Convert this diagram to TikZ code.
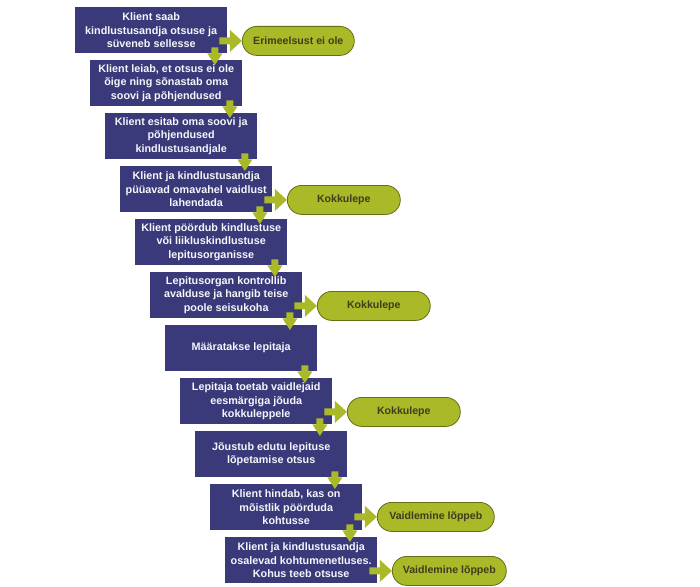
\documentclass[tikz,border=0pt]{standalone}
\usepackage{fontspec}
\setmainfont{Liberation Sans}
\usetikzlibrary{calc}
\definecolor{boxblue}{RGB}{58,58,122}
\definecolor{agreen}{RGB}{170,185,40}
\definecolor{oborder}{RGB}{100,110,20}
\definecolor{otext}{RGB}{60,62,30}
\definecolor{btext}{RGB}{245,245,250}
\newcommand{\dnarrow}[2]{\fill[agreen] let \p1=($(#1.south east)+(-12.5pt,0pt)$), \p2=(#2.north) in (\x1-3.5pt,\y1+6pt) -- (\x1+3.5pt,\y1+6pt) -- (\x1+3.5pt,\y1) -- (\x1+7.5pt,\y1) -- (\x1,\y2-5pt) -- (\x1-7.5pt,\y1) -- (\x1-3.5pt,\y1) -- cycle;}
\newcommand{\rtarrow}[2]{\fill[agreen] let \p1=(#1.east), \p2=(#2.west) in (\x1-8pt,\y2+3.5pt) -- (\x2-12pt,\y2+3.5pt) -- (\x2-12pt,\y2+11pt) -- (\x2,\y2) -- (\x2-12pt,\y2-11pt) -- (\x2-12pt,\y2-3.5pt) -- (\x1-8pt,\y2-3.5pt) -- cycle;}
\tikzset{
  stepbox/.style={rectangle, fill=boxblue, minimum width=152pt, minimum height=46pt, inner sep=0pt, text=btext, font=\bfseries\fontsize{10.8}{13.3}\selectfont, align=center, anchor=north west},
  endoval/.style={rectangle, rounded corners=14.5pt, fill=agreen, draw=oborder, line width=0.8pt, minimum width=113pt, minimum height=29pt, inner sep=0pt, text=otext, font=\bfseries\fontsize{10.6}{12}\selectfont, anchor=west}
}
\begin{document}
\begin{tikzpicture}[x=1pt,y=-1pt]
\useasboundingbox (0,0) rectangle (700,586);
\node[stepbox] (b1) at (75,7) {Klient saab\\kindlustusandja otsuse ja\\süveneb sellesse};
\node[stepbox] (b2) at (90,60) {Klient leiab, et otsus ei ole\\õige ning sõnastab oma\\soovi ja põhjendused};
\node[stepbox] (b3) at (105,113) {Klient esitab oma soovi ja\\põhjendused\\kindlustusandjale};
\node[stepbox] (b4) at (120,166) {Klient ja kindlustusandja\\püüavad omavahel vaidlust\\lahendada};
\node[stepbox] (b5) at (135,219) {Klient pöördub kindlustuse\\või liikluskindlustuse\\lepitusorganisse};
\node[stepbox] (b6) at (150,272) {Lepitusorgan kontrollib\\avalduse ja hangib teise\\poole seisukoha};
\node[stepbox] (b7) at (165,325) {Määratakse lepitaja};
\node[stepbox] (b8) at (180,378) {Lepitaja toetab vaidlejaid\\eesmärgiga jõuda\\kokkuleppele};
\node[stepbox] (b9) at (195,431) {Jõustub edutu lepituse\\lõpetamise otsus};
\node[stepbox] (b10) at (210,484) {Klient hindab, kas on\\mõistlik pöörduda\\kohtusse};
\node[stepbox] (b11) at (225,537) {Klient ja kindlustusandja\\osalevad kohtumenetluses.\\Kohus teeb otsuse};
\node[endoval, minimum width=112pt] (o1) at ($(b1.south east)+(14.5pt,12.5pt)$) {Erimeelsust ei ole};
\node[endoval] (o2) at ($(b4.south east)+(14.5pt,12.5pt)$) {Kokkulepe};
\node[endoval] (o3) at ($(b6.south east)+(14.5pt,12.5pt)$) {Kokkulepe};
\node[endoval] (o4) at ($(b8.south east)+(14.5pt,12.5pt)$) {Kokkulepe};
\node[endoval, minimum width=117pt] (o5) at ($(b10.south east)+(14.5pt,13.5pt)$) {Vaidlemine lõppeb};
\node[endoval, minimum width=114pt] (o6) at ($(b11.south east)+(14.5pt,12.5pt)$) {Vaidlemine lõppeb};
\dnarrow{b1}{b2}
\dnarrow{b2}{b3}
\dnarrow{b3}{b4}
\dnarrow{b4}{b5}
\dnarrow{b5}{b6}
\dnarrow{b6}{b7}
\dnarrow{b7}{b8}
\dnarrow{b8}{b9}
\dnarrow{b9}{b10}
\dnarrow{b10}{b11}
\rtarrow{b1}{o1}
\rtarrow{b4}{o2}
\rtarrow{b6}{o3}
\rtarrow{b8}{o4}
\rtarrow{b10}{o5}
\rtarrow{b11}{o6}
\end{tikzpicture}
\end{document}
